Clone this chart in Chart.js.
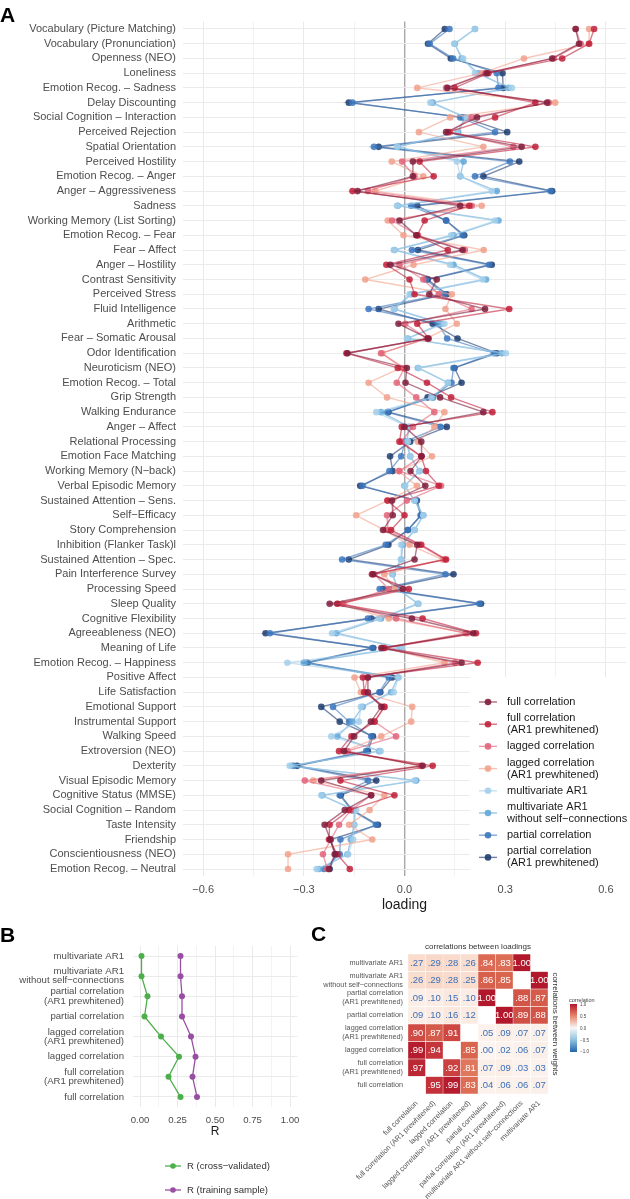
<!DOCTYPE html>
<html>
<head>
<meta charset="utf-8">
<script src="https://cdn.jsdelivr.net/npm/chart.js@4.4.1/dist/chart.umd.min.js"></script>
<style>
html,body{margin:0;padding:0;background:#fff;}
body{width:630px;height:1199px;position:relative;overflow:hidden;font-family:"Liberation Sans",Arial,Helvetica,sans-serif;}
canvas{position:absolute;}
.tag{position:absolute;font-weight:bold;font-size:21px;line-height:21px;color:#000;z-index:5;}
.cb{position:absolute;color:#444;white-space:nowrap;z-index:5;}
</style>
</head>
<body>
<canvas id="cA" width="630" height="915" style="left:0;top:0;width:630px;height:915px"></canvas>
<canvas id="cB" width="310" height="299" style="left:0;top:900px;width:310px;height:299px"></canvas>
<canvas id="cC" width="320" height="299" style="left:310px;top:900px;width:320px;height:299px"></canvas>
<div class="tag" style="left:0;top:4px">A</div>
<div class="tag" style="left:0;top:924px">B</div>
<div class="tag" style="left:311px;top:923px">C</div>
<div class="cb" style="left:569px;top:997px;font-size:5.5px;line-height:6px">correlation</div>
<div class="cb" style="left:570px;top:1004px;width:7px;height:48px;background:linear-gradient(to bottom,#b2182b 0%,#e8866c 25%,#f7f7f7 50%,#8fc1de 75%,#2166ac 100%);"></div>
<div class="cb" style="left:580px;top:1002px;font-size:4.5px;line-height:5px">1.0</div>
<div class="cb" style="left:580px;top:1013.5px;font-size:4.5px;line-height:5px">0.5</div>
<div class="cb" style="left:580px;top:1025.5px;font-size:4.5px;line-height:5px">0.0</div>
<div class="cb" style="left:580px;top:1037.5px;font-size:4.5px;line-height:5px">−0.5</div>
<div class="cb" style="left:580px;top:1048.5px;font-size:4.5px;line-height:5px">−1.0</div>
<script>
// ---------------- Panel A data ----------------
const traits = [
 "Vocabulary (Picture Matching)","Vocabulary (Pronunciation)","Openness (NEO)","Loneliness",
 "Emotion Recog. – Sadness","Delay Discounting","Social Cognition – Interaction","Perceived Rejection",
 "Spatial Orientation","Perceived Hostility","Emotion Recog. – Anger","Anger – Aggressiveness",
 "Sadness","Working Memory (List Sorting)","Emotion Recog. – Fear","Fear – Affect",
 "Anger – Hostility","Contrast Sensitivity","Perceived Stress","Fluid Intelligence",
 "Arithmetic","Fear – Somatic Arousal","Odor Identification","Neuroticism (NEO)",
 "Emotion Recog. – Total","Grip Strength","Walking Endurance","Anger – Affect",
 "Relational Processing","Emotion Face Matching","Working Memory (N−back)","Verbal Episodic Memory",
 "Sustained Attention – Sens.","Self−Efficacy","Story Comprehension","Inhibition (Flanker Task)l",
 "Sustained Attention – Spec.","Pain Interference Survey","Processing Speed","Sleep Quality",
 "Cognitive Flexibility","Agreeableness (NEO)","Meaning of Life","Emotion Recog. – Happiness",
 "Positive Affect","Life Satisfaction","Emotional Support","Instrumental Support",
 "Walking Speed","Extroversion (NEO)","Dexterity","Visual Episodic Memory",
 "Cognitive Status (MMSE)","Social Cognition – Random","Taste Intensity","Friendship",
 "Conscientiousness (NEO)","Emotion Recog. – Neutral"
];
const fullCorrelation = [0.51,0.52,0.44,0.245,0.128,0.425,0.216,0.124,0.349,0.025, 0.025,-0.14,0.166,-0.015,0.035,0.173,-0.042,0.096,0.074,0.24, -0.018,0.07,-0.17,0.007,0.003,0.106,0.235,0.0,0.05,0.051, 0.018,0.062,-0.037,-0.035,-0.064,0.038,0.03,-0.094,-0.005,-0.223, 0.022,0.205,-0.069,0.17,-0.109,-0.109,-0.069,-0.1,-0.15,-0.18, 0.054,-0.248,-0.099,-0.178,-0.238,-0.221,-0.208,-0.225];
const fullCorrelationAR1 = [0.565,0.55,0.47,0.25,0.149,0.39,0.27,0.13,0.39,0.045, 0.087,-0.155,0.193,0.06,0.038,0.129,-0.054,0.015,0.03,0.312, 0.038,0.072,-0.173,-0.02,0.067,0.139,0.262,-0.008,-0.015,0.05, 0.064,0.102,-0.051,0.0,-0.04,0.05,0.124,-0.097,0.013,-0.2, 0.054,0.213,-0.06,0.218,-0.124,-0.12,-0.06,-0.089,-0.158,-0.195, 0.084,-0.191,-0.03,-0.165,-0.223,-0.225,-0.2,-0.163];
const laggedCorrelation = [0.51,0.525,0.445,0.24,0.124,0.43,0.2,0.135,0.324,-0.007, 0.03,-0.109,0.2,-0.037,0.04,0.18,-0.015,0.056,0.102,0.2, 0.002,0.068,-0.07,0.0,-0.023,0.035,0.089,0.025,-0.01,0.05, -0.015,0.109,0.007,-0.052,-0.05,0.045,0.12,-0.09,-0.047,-0.183, -0.025,0.183,-0.065,0.151,-0.11,-0.12,-0.06,-0.09,-0.025,-0.17, 0.05,-0.297,-0.1,-0.16,-0.195,-0.22,-0.243,-0.23];
const laggedCorrelationAR1 = [0.55,0.55,0.356,0.23,0.038,0.449,0.136,0.043,0.235,-0.038, 0.056,-0.087,0.23,-0.05,-0.003,0.236,0.027,-0.117,0.141,0.122, 0.156,0.065,-0.066,-0.01,-0.107,-0.052,0.119,0.089,0.04,0.082, -0.018,0.037,-0.05,-0.144,-0.06,0.015,0.114,-0.06,-0.03,-0.2, -0.047,0.19,-0.06,0.119,-0.149,-0.13,0.023,0.02,-0.069,-0.178, 0.045,-0.272,-0.06,-0.104,-0.165,-0.096,-0.347,-0.347];
const multivariateAR1 = [0.21,0.148,0.175,0.21,0.32,0.077,0.186,0.156,-0.022,0.156, 0.166,0.26,-0.022,0.27,0.139,-0.032,0.136,0.233,0.015,-0.032, 0.119,0.007,0.302,0.042,0.129,0.08,-0.084,0.01,0.01,0.017, 0.045,0.002,0.03,0.056,0.03,-0.01,-0.01,-0.037,-0.02,0.042, -0.076,-0.216,-0.008,-0.349,-0.017,-0.032,-0.13,-0.136,-0.218,-0.071, -0.342,0.03,-0.248,-0.144,-0.15,-0.153,-0.168,-0.262];
const multivariateAR1NoSelf = [0.21,0.15,0.17,0.22,0.31,0.084,0.18,0.16,-0.02,0.176, 0.166,0.275,-0.02,0.28,0.146,-0.03,0.146,0.243,0.02,-0.03, 0.11,0.01,0.29,0.04,0.13,0.085,-0.07,0.015,0.005,0.017, 0.045,0.0,0.03,0.056,0.03,-0.005,-0.01,-0.035,-0.02,0.04, -0.07,-0.203,-0.01,-0.3,-0.02,-0.04,-0.125,-0.155,-0.2,-0.075, -0.335,0.035,-0.245,-0.15,-0.15,-0.16,-0.17,-0.255];
const partialCorrelation = [0.134,0.075,0.145,0.275,0.28,-0.155,0.166,0.27,-0.091,0.314, 0.21,0.435,0.02,0.124,0.173,0.022,0.252,0.064,0.119,-0.107, 0.1,0.127,0.267,0.146,0.14,0.084,-0.051,0.107,0.002,-0.01, -0.045,-0.125,0.035,0.048,0.01,-0.056,-0.186,0.122,-0.074,0.223, -0.109,-0.401,-0.096,-0.297,-0.047,-0.075,-0.213,-0.165,-0.099,-0.114, -0.33,-0.109,-0.193,-0.158,-0.085,-0.191,-0.193,-0.24];
const partialCorrelationAR1 = [0.12,0.07,0.138,0.292,0.294,-0.166,0.175,0.306,-0.077,0.342, 0.235,0.44,0.038,0.124,0.178,0.04,0.26,0.069,0.126,-0.077, 0.084,0.158,0.275,0.149,0.17,0.069,-0.048,0.126,0.017,-0.043, -0.035,-0.132,0.037,0.05,0.01,-0.048,-0.166,0.146,-0.064,0.228, -0.099,-0.414,-0.093,-0.289,-0.037,-0.072,-0.248,-0.193,-0.094,-0.109, -0.32,-0.084,-0.19,-0.155,-0.079,-0.22,-0.205,-0.223];
const seriesNamesA = [["full correlation"],["full correlation","(AR1 prewhitened)"],["lagged correlation"],["lagged correlation","(AR1 prewhitened)"],["multivariate AR1"],["multivariate AR1","without self−connections"],["partial correlation"],["partial correlation","(AR1 prewhitened)"]];
const xMajorA = [-0.6,-0.3,0,0.3,0.6];
const xMinorA = [-0.45,-0.15,0.15,0.45];

// ---------------- Panel B data ----------------
const methodsB = ["multivariate AR1",["multivariate AR1","without self−connections"],["partial correlation","(AR1 prewhitened)"],"partial correlation",["lagged correlation","(AR1 prewhitened)"],"lagged correlation",["full correlation","(AR1 prewhitened)"],"full correlation"];
const rCrossValidated = [0.01,0.01,0.05,0.03,0.14,0.26,0.19,0.27];
const rTraining = [0.27,0.27,0.28,0.28,0.34,0.37,0.35,0.38];
const xMajorB = [0,0.25,0.5,0.75,1];
const xMinorB = [0.125,0.375,0.625,0.875];

// ---------------- Panel C data ----------------
const rowLabelsC = ["multivariate AR1",["multivariate AR1","without self−connections"],["partial correlation","(AR1 prewhitened)"],"partial correlation",["lagged correlation","(AR1 prewhitened)"],"lagged correlation",["full correlation","(AR1 prewhitened)"],"full correlation"];
const colLabelsC = ["full correlation","full correlation (AR1 prewhitened)","lagged correlation","lagged correlation (AR1 prewhitened)","partial correlation","partial correlation (AR1 prewhitened)","multivariate AR1 without self−connections","multivariate AR1"];
const corrMultivariateAR1 = [0.27,0.29,0.28,0.26,0.84,0.83,1.00,null];
const corrMultivariateAR1NoSelf = [0.26,0.29,0.28,0.25,0.86,0.85,null,1.00];
const corrPartialAR1 = [0.09,0.10,0.15,0.10,1.00,null,0.88,0.87];
const corrPartial = [0.09,0.10,0.16,0.12,null,1.00,0.89,0.88];
const corrLaggedAR1 = [0.90,0.87,0.91,null,0.05,0.09,0.07,0.07];
const corrLagged = [0.99,0.94,null,0.85,0.00,0.02,0.06,0.07];
const corrFullAR1 = [0.97,null,0.92,0.81,0.07,0.09,0.03,0.03];
const corrFull = [null,0.95,0.99,0.83,0.04,0.06,0.06,0.07];

// ---------------- styling ----------------
Chart.defaults.font.family = '"Liberation Sans", Arial, Helvetica, sans-serif';
Chart.defaults.color = '#4d4d4d';
const FONT = '"Liberation Sans", Arial, Helvetica, sans-serif';
const colorsA = ['#7f1d3c','#c1203a','#e2647a','#f1a18c','#a3cfea','#62a7d8','#3b77be','#1f3d70'];
function rgba(hex,a){const n=parseInt(hex.slice(1),16);return `rgba(${n>>16},${(n>>8)&255},${n&255},${a})`;}
const seriesA = [fullCorrelation,fullCorrelationAR1,laggedCorrelation,laggedCorrelationAR1,multivariateAR1,multivariateAR1NoSelf,partialCorrelation,partialCorrelationAR1];

const legendA = {
  id:'legendA',
  afterDraw(chart){
    const c = chart.ctx; c.save();
    c.fillStyle = '#ffffff'; c.fillRect(470,677,160,200);
    c.font = '11px '+FONT; c.textBaseline='middle'; c.textAlign='left';
    let y = 702;
    chart.data.datasets.forEach((ds,i)=>{
      const lines = seriesNamesA[i];
      const cy = y + (lines.length-1)*6;
      c.strokeStyle = rgba(colorsA[i],0.65); c.lineWidth=1.4;
      c.beginPath(); c.moveTo(479,cy); c.lineTo(497,cy); c.stroke();
      c.fillStyle = rgba(colorsA[i],0.9);
      c.beginPath(); c.arc(488,cy,3.3,0,Math.PI*2); c.fill();
      c.fillStyle = '#1a1a1a';
      lines.forEach((t,k)=>c.fillText(t,507,y+k*12));
      y = y + (lines.length-1)*12 + 22.3 - 6.1;
    });
    c.restore();
  }
};

new Chart(document.getElementById('cA'),{
  type:'line',
  data:{labels:traits,datasets:seriesA.map((d,i)=>({
    label:seriesNamesA[i].join(' '), data:d,
    borderColor:rgba(colorsA[i],0.6), borderWidth:1.4,
    pointRadius:3.3, pointBorderWidth:0,
    pointBackgroundColor:rgba(colorsA[i],0.85), backgroundColor:rgba(colorsA[i],0.85),
    tension:0
  }))},
  options:{
    indexAxis:'y', responsive:false, animation:false,
    layout:{padding:{top:21.6,right:3,bottom:0,left:0}},
    plugins:{legend:{display:false},tooltip:{enabled:false}},
    scales:{
      x:{type:'linear',min:-0.66,max:0.66,
        afterBuildTicks(s){s.ticks=[...xMajorA,...xMinorA].sort((a,b)=>a-b).map(v=>({value:v}));},
        ticks:{autoSkip:false,maxRotation:0,padding:7,font:{size:11},color:'#4d4d4d',
          callback:(v)=>xMajorA.includes(v)?(v<0?'−':'')+Math.abs(v).toFixed(1):''},
        grid:{drawTicks:false,
          color:(ctx)=>ctx.tick&&ctx.tick.value===0?'#a9a9a9':(ctx.tick&&xMinorA.includes(ctx.tick.value)?'#f2f2f2':'#e9e9e9'),
          lineWidth:(ctx)=>ctx.tick&&ctx.tick.value===0?1.4:1},
        border:{display:false},
        title:{display:true,text:'loading',font:{size:14},color:'#1a1a1a',padding:{top:0,bottom:1}},
        afterFit(s){s.height=38.6;}
      },
      y:{type:'category',offset:true,
        ticks:{autoSkip:false,padding:7,font:{size:11},color:'#4d4d4d'},
        grid:{drawTicks:false,color:'#ebebeb',lineWidth:1},
        border:{display:false},
        afterFit(s){s.width=183;}
      }
    }
  },
  plugins:[legendA]
});

// ---------------- Panel B ----------------
const GREEN='#4daf4a', PURPLE='#984ea3';
const legendB = {
  id:'legendB',
  afterDraw(chart){
    const c=chart.ctx; c.save();
    c.font='9.6px '+FONT; c.textBaseline='middle'; c.textAlign='left';
    chart.data.datasets.forEach((ds,i)=>{
      const cy = 266 + i*24;
      c.strokeStyle=ds.borderColor; c.lineWidth=1.3;
      c.beginPath(); c.moveTo(165,cy); c.lineTo(181,cy); c.stroke();
      c.fillStyle=ds.borderColor; c.beginPath(); c.arc(173,cy,2.8,0,Math.PI*2); c.fill();
      c.fillStyle='#333333'; c.fillText(ds.label,187,cy);
    });
    c.restore();
  }
};
new Chart(document.getElementById('cB'),{
  type:'line',
  data:{labels:methodsB,datasets:[
    {label:'R (cross−validated)',data:rCrossValidated,borderColor:GREEN,backgroundColor:GREEN,pointBackgroundColor:GREEN,pointRadius:3,pointBorderWidth:0,borderWidth:1.3},
    {label:'R (training sample)',data:rTraining,borderColor:PURPLE,backgroundColor:PURPLE,pointBackgroundColor:PURPLE,pointRadius:3,pointBorderWidth:0,borderWidth:1.3}
  ]},
  options:{
    indexAxis:'y', responsive:false, animation:false,
    layout:{padding:{top:46,right:12.5,bottom:57,left:0}},
    plugins:{legend:{display:false},tooltip:{enabled:false}},
    scales:{
      x:{type:'linear',min:-0.05,max:1.05,
        afterBuildTicks(s){s.ticks=[...xMajorB,...xMinorB].sort((a,b)=>a-b).map(v=>({value:v}));},
        ticks:{autoSkip:false,maxRotation:0,padding:7.3,font:{size:9.6},color:'#4d4d4d',
          callback:(v)=>xMajorB.includes(v)?v.toFixed(2):''},
        grid:{drawTicks:false,color:(ctx)=>ctx.tick&&xMinorB.includes(ctx.tick.value)?'#f3f3f3':'#e9e9e9'},
        border:{display:false},
        title:{display:true,text:'R',font:{size:12},color:'#1a1a1a',padding:{top:0,bottom:3.3}},
        afterFit(s){s.height=35;}
      },
      y:{type:'category',offset:true,
        ticks:{autoSkip:false,padding:8.5,font:{size:9.6,lineHeight:0.95},color:'#4d4d4d'},
        grid:{drawTicks:false,color:'#ebebeb'},
        border:{display:false},
        afterFit(s){s.width=132.5;}
      }
    }
  },
  plugins:[legendB]
});

// ---------------- Panel C ----------------
const corrRows = [corrMultivariateAR1,corrMultivariateAR1NoSelf,corrPartialAR1,corrPartial,corrLaggedAR1,corrLagged,corrFullAR1,corrFull];
const heatStops = [[0,'#fcf4f0'],[0.1,'#fbede6'],[0.27,'#f9dccd'],[0.5,'#f2b39b'],[0.8,'#e17b61'],[0.85,'#d9654f'],[0.9,'#cf4b44'],[0.95,'#c3313a'],[1,'#b2182b']];
function heatColor(v){
  for(let k=1;k<heatStops.length;k++){
    const [v0,c0]=heatStops[k-1],[v1,c1]=heatStops[k];
    if(v<=v1){
      const t=(v-v0)/(v1-v0);
      const a=parseInt(c0.slice(1),16),b=parseInt(c1.slice(1),16);
      const r=Math.round((a>>16)+t*((b>>16)-(a>>16)));
      const g=Math.round(((a>>8)&255)+t*(((b>>8)&255)-((a>>8)&255)));
      const bl=Math.round((a&255)+t*((b&255)-(a&255)));
      return `rgb(${r},${g},${bl})`;
    }
  }
  return heatStops[heatStops.length-1][1];
}
const cellText = {
  id:'cellText',
  afterDatasetsDraw(chart){
    const c=chart.ctx; c.save();
    c.font='9.5px '+FONT; c.textAlign='center'; c.textBaseline='middle';
    chart.data.datasets.forEach((ds,j)=>{
      chart.getDatasetMeta(j).data.forEach((el,i)=>{
        const v=corrRows[i][j]; if(v===null) return;
        const txt = v>=1 ? '1.00' : '.'+String(Math.round(v*100)).padStart(2,'0');
        c.fillStyle = v>=0.5 ? '#ffffff' : '#3a6fb7';
        c.fillText(txt,(el.x+el.base)/2,el.y+0.5);
      });
    });
    c.restore();
  }
};
new Chart(document.getElementById('cC'),{
  type:'bar',
  data:{labels:rowLabelsC,datasets:colLabelsC.map((name,j)=>({
    label:name, data:corrRows.map(()=>1),
    backgroundColor:corrRows.map(r=>r[j]===null?'#ffffff':heatColor(r[j])),
    borderWidth:0.5, borderColor:'rgba(255,255,255,0.55)', borderSkipped:false,
    barPercentage:1, categoryPercentage:1, xAxisID:'x', yAxisID:'y'
  }))},
  options:{
    indexAxis:'y', responsive:false, animation:false,
    layout:{padding:{top:40,right:70,bottom:0,left:0}},
    plugins:{legend:{display:false},tooltip:{enabled:false},
      title:{display:true,text:'correlations between loadings',fullSize:false,font:{size:8,weight:'normal'},color:'#333333',padding:{top:2.2,bottom:2.2}}},
    scales:{
      x:{type:'linear',stacked:true,min:0,max:8,display:false},
      y:{type:'category',stacked:true,offset:true,
        grid:{display:false,drawTicks:false},border:{display:false},
        ticks:{autoSkip:false,padding:5,font:{size:7.3,lineHeight:1.25},color:'#555555'},
        afterFit(s){s.width=98;}
      },
      x2:{type:'category',position:'bottom',labels:colLabelsC,offset:true,
        grid:{display:false,drawTicks:false},border:{display:false},
        ticks:{autoSkip:false,minRotation:45,maxRotation:45,padding:5,font:{size:7.3},color:'#555555'},
        afterFit(s){s.height=105;}
      },
      y2:{type:'linear',position:'right',
        grid:{display:false,drawTicks:false},border:{display:false},
        ticks:{display:false},
        title:{display:true,text:'correlations between weights',font:{size:8},color:'#333333',padding:0},
        afterFit(s){s.width=12;}
      }
    }
  },
  plugins:[cellText]
});
</script>
</body>
</html>
